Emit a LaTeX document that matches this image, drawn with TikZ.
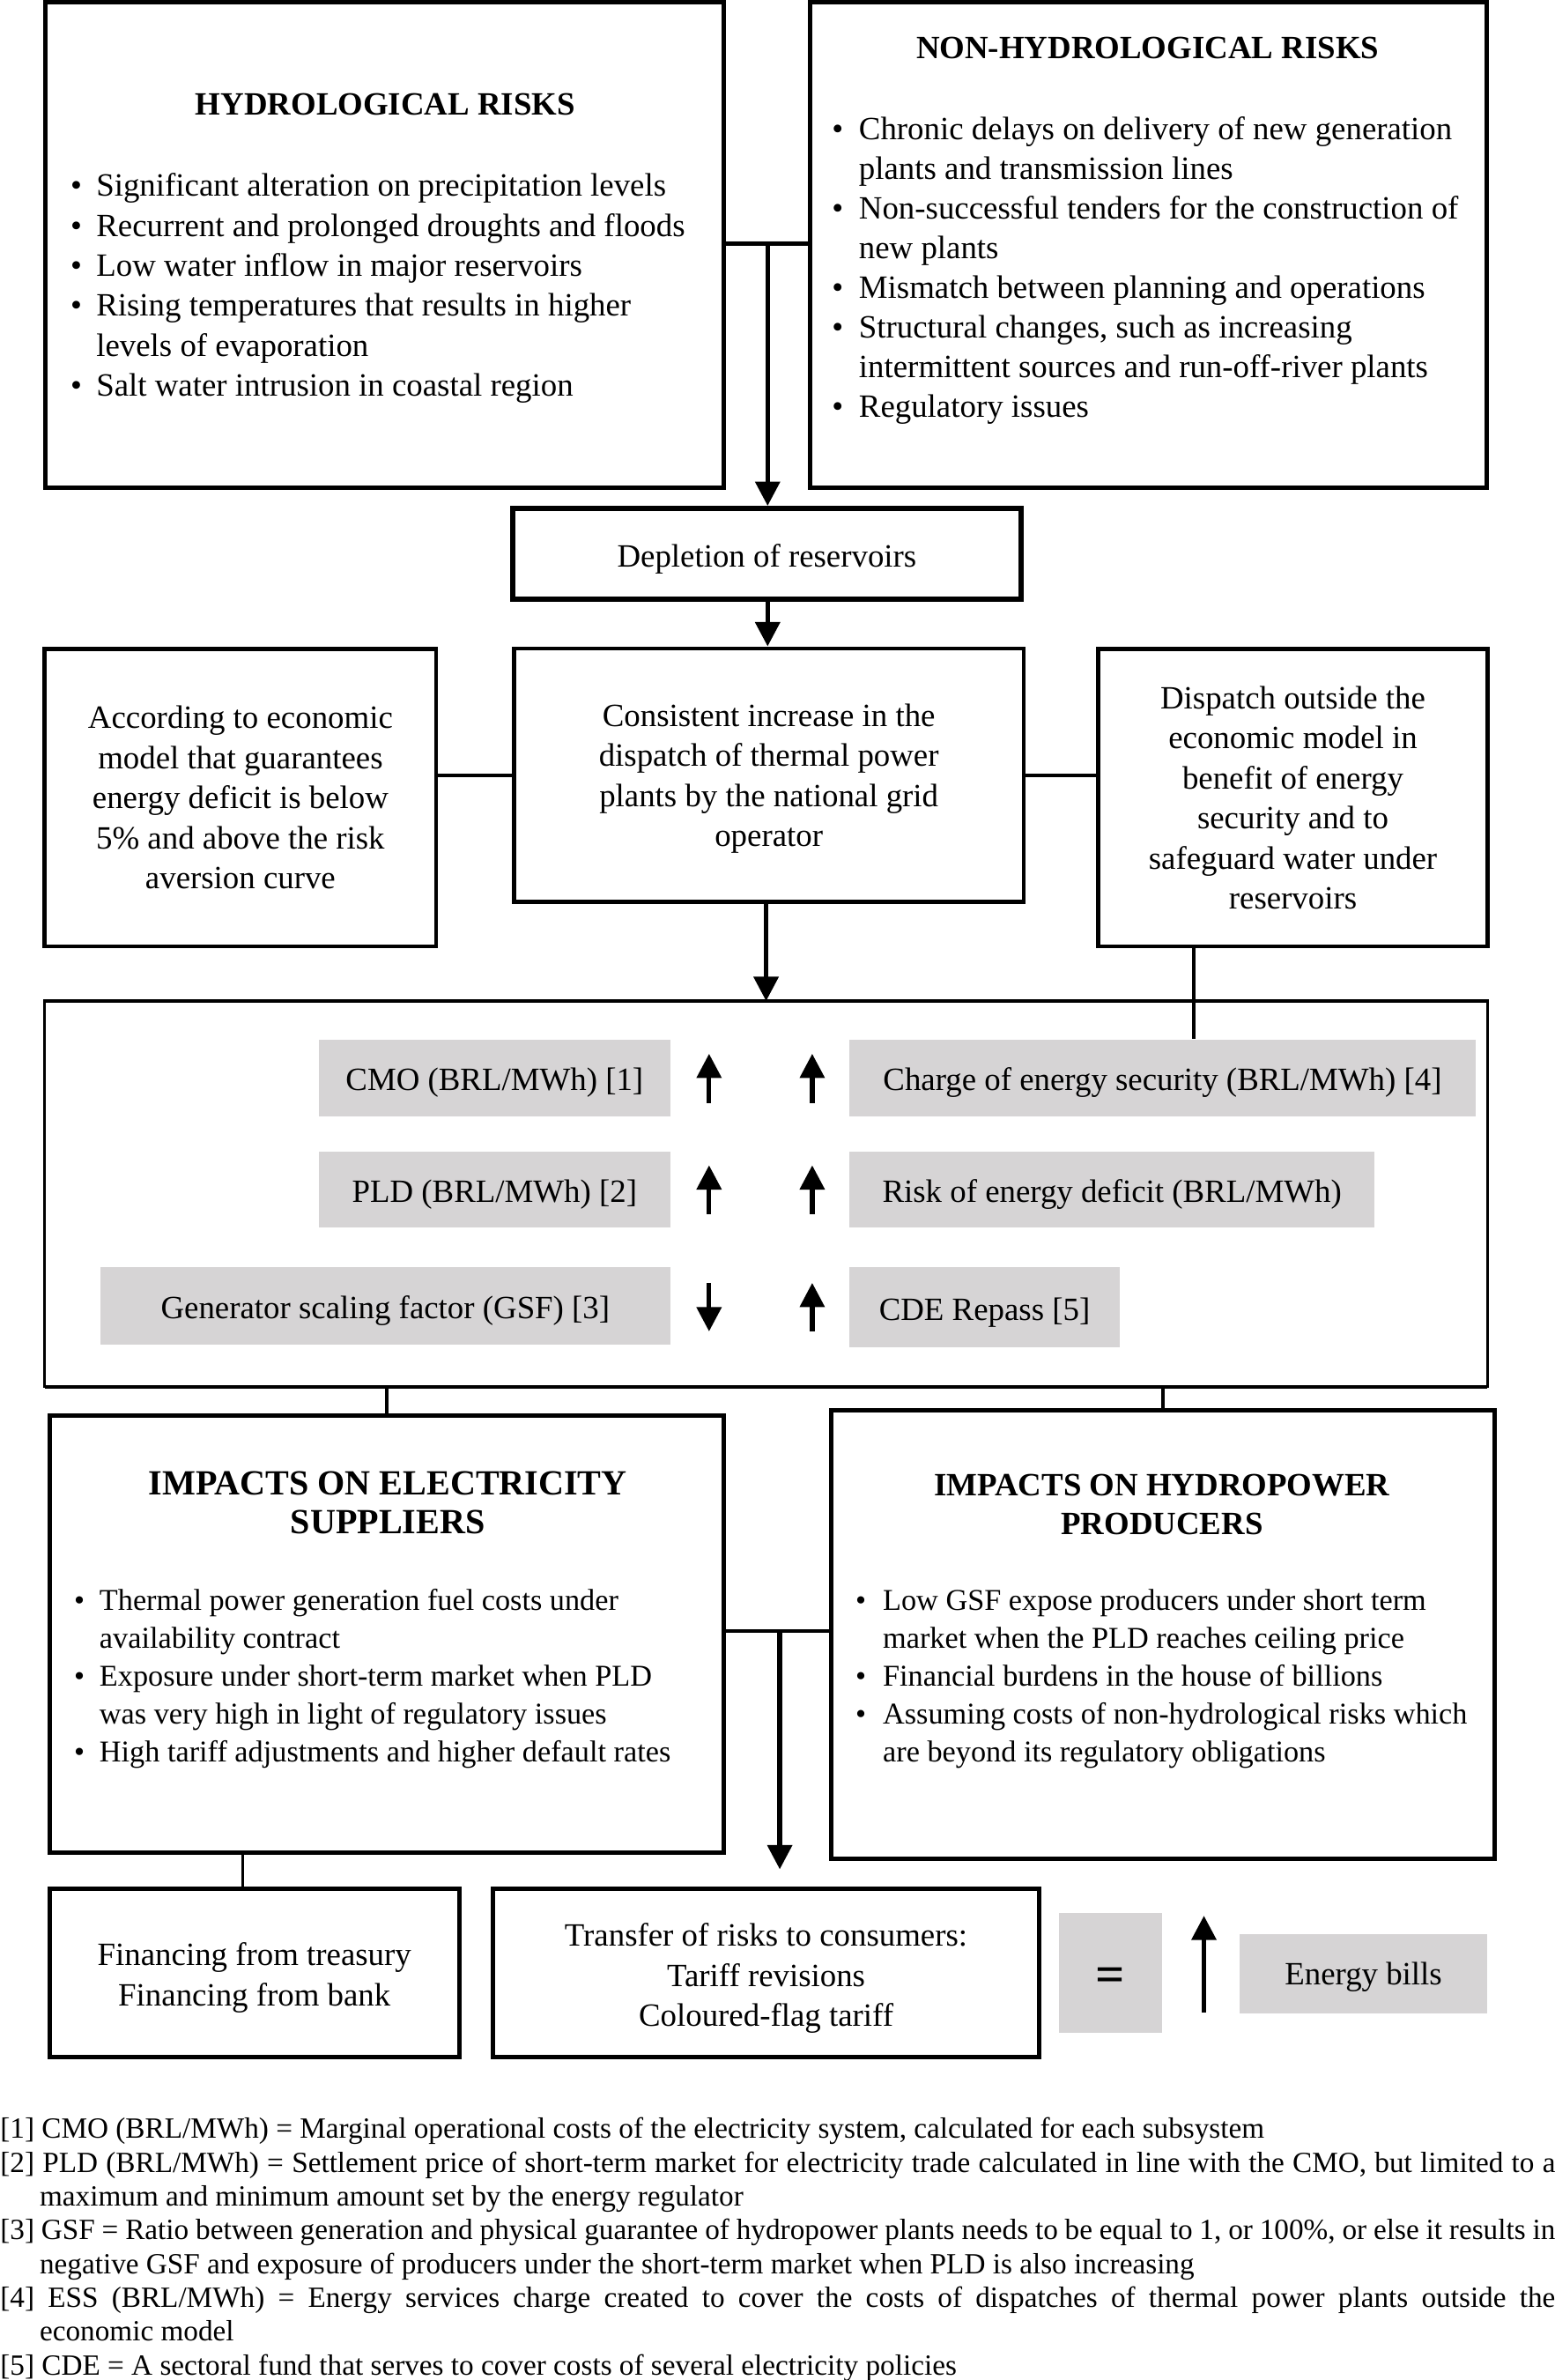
\documentclass[tikz,border=0pt]{standalone}
\usepackage{fontspec}
\setmainfont{Liberation Serif}
\usetikzlibrary{arrows.meta,calc}
\definecolor{gbox}{HTML}{D6D4D5}
\newcommand{\blist}[4][21.4]{\parbox[t]{#2}{\fontsize{#1}{#3}\selectfont\raggedright\setlength{\parindent}{0pt}#4}}
\newcommand{\bitem}[2][17pt]{\hangindent=#1\hangafter=1\noindent\makebox[#1][l]{\textbullet}#2\par}
\newcommand{\fnitem}[1]{\hangindent=26pt\hangafter=1\noindent #1\par}
\newcommand{\dropbox}[2]{\raisebox{-#1}[\height][\depth]{#2}}
\tikzset{
  box/.style={draw, line width=2.8pt, inner sep=0pt, align=center, font=\fontsize{21.4}{26.4}\selectfont},
  gnode/.style={fill=gbox, draw=none, inner sep=0pt, align=center, text height=17pt, text depth=0pt, font=\fontsize{21.4}{26.4}\selectfont},
  ttl/.style={inner sep=0pt, align=center, font=\fontsize{21.4}{25.4}\selectfont\bfseries},
  conn/.style={line width=2.6pt},
  thinconn/.style={line width=2.2pt},
  arr/.style={line width=3pt, -{Triangle[length=16pt,width=16pt]}}
}
\begin{document}
\begin{tikzpicture}[x=1pt,y=-1pt]
\useasboundingbox (0,0) rectangle (1025,1568.6);
\fill[white] (0,0) rectangle (1025,1568.6);

% top boxes
\node[box, minimum width=447pt, minimum height=320pt] (hyd) at (253.5,161.5) {};
\node[ttl] (hydt) at (254,69) {HYDROLOGICAL RISKS};
\node[anchor=base west, inner sep=0pt] (hydl) at (46.3,129.5) {\blist{450pt}{26.3pt}{%
\bitem{Significant alteration on precipitation levels}
\bitem{Recurrent and prolonged droughts and floods}
\bitem{Low water inflow in major reservoirs}
\bitem{Rising temperatures that results in higher\newline levels of evaporation}
\bitem{Salt water intrusion in coastal region}}};

\node[box, minimum width=446pt, minimum height=320pt] (non) at (757,161.5) {};
\node[ttl] (nont) at (756.5,31.5) {NON-HYDROLOGICAL RISKS};
\node[anchor=base west, inner sep=0pt] (nonl) at (548.3,92) {\blist{450pt}{26.1pt}{%
\bitem[17.7pt]{Chronic delays on delivery of new generation\newline plants and transmission lines}
\bitem[17.7pt]{Non-successful tenders for the construction of\newline new plants}
\bitem[17.7pt]{Mismatch between planning and operations}
\bitem[17.7pt]{Structural changes, such as increasing\newline intermittent sources and run-off-river plants}
\bitem[17.7pt]{Regulatory issues}}};

\coordinate (j1) at (506,160.7);
\draw[conn] (hyd.east |- j1) -- (non.west |- j1);

% depletion
\node[box, line width=3.2pt, text height=17pt, text depth=0pt, minimum width=335pt, minimum height=60pt] (dep) at (505.5,365) {Depletion of reservoirs};
\draw[arr] (j1) -- (j1 |- dep.north);

% middle row
\node[box, minimum width=258pt, minimum height=196pt] (lft) at (158.5,525.7)
  {According to economic\\model that guarantees\\energy deficit is below\\5\% and above the risk\\aversion curve};
\node[box, minimum width=336pt, minimum height=167pt] (cen) at (506.8,510.9)
  {\dropbox{2pt}{\begin{tabular}{@{}c@{}}Consistent increase in the\\dispatch of thermal power\\plants by the national grid\\operator\end{tabular}}};
\node[box, minimum width=256.5pt, minimum height=196pt] (rgt) at (852.25,525.7)
  {Dispatch outside the\\economic model in\\benefit of energy\\security and to\\safeguard water under\\reservoirs};
\draw[arr] (j1 |- dep.south) -- (j1 |- cen.north);
\draw[conn] (cen.west -| lft.east) -- (cen.west);
\draw[conn] (cen.east) -- (cen.east -| rgt.west);

% big box
\node[draw, line width=1.8pt, outer sep=0pt, inner sep=0pt, minimum width=951pt, minimum height=254.3pt] (big) at (505,786.9) {};
\draw[line width=2.8pt] (big.north west) -- (big.north east);
\draw[line width=2.8pt] (big.south west) -- (big.south east);
\coordinate (c2) at (505,0);
\draw[arr] (c2 |- cen.south) -- (c2 |- big.north);

\node[gnode, minimum width=232pt, minimum height=50.6pt] (cmo) at (326,710.3) {CMO (BRL/MWh) [1]};
\node[gnode, minimum width=412.6pt, minimum height=50.6pt] (chg) at (766.3,710.3) {Charge of energy security (BRL/MWh) [4]};
\node[gnode, minimum width=232pt, minimum height=50.2pt] (pld) at (326,783.9) {PLD (BRL/MWh) [2]};
\node[gnode, minimum width=346pt, minimum height=50.2pt] (rsk) at (733,783.9) {Risk of energy deficit (BRL/MWh)};
\node[gnode, minimum width=376pt, minimum height=51pt] (gsf) at (254,860.5) {Generator scaling factor (GSF) [3]};
\node[gnode, minimum width=178pt, minimum height=53pt] (cde) at (649,861.5) {CDE Repass [5]};

\coordinate (rl) at (787,0);
\draw[thinconn] (rl |- rgt.south) -- (rl |- chg.north);

\coordinate (a1b) at (467.4,727);   \coordinate (a1t) at (467.4,694.5);
\coordinate (a2b) at (535.4,727);   \coordinate (a2t) at (535.4,694.5);
\coordinate (a3b) at (467.4,800);   \coordinate (a3t) at (467.4,768);
\coordinate (a4b) at (535.4,800);   \coordinate (a4t) at (535.4,768);
\coordinate (a5t) at (467.4,845.5); \coordinate (a5b) at (467.4,877.5);
\coordinate (a6b) at (535.4,877.5); \coordinate (a6t) at (535.4,845.5);
\draw[arr] (a1b) -- (a1t);
\draw[arr] (a2b) -- (a2t);
\draw[arr] (a3b) -- (a3t);
\draw[arr] (a4b) -- (a4t);
\draw[arr] (a5t) -- (a5b);
\draw[arr] (a6b) -- (a6t);

% impacts
\node[box, minimum width=444.3pt, minimum height=288pt] (limp) at (254.85,1077) {};
\node[ttl, font=\fontsize{23.3}{25.2}\selectfont\bfseries] (limpt) at (255.6,990.4) {IMPACTS ON ELECTRICITY\\SUPPLIERS};
\node[anchor=base west, inner sep=0pt] (limpl) at (48.6,1061.5) {\blist[19.9]{450pt}{24.9pt}{%
\bitem[16.8pt]{Thermal power generation fuel costs under\newline availability contract}
\bitem[16.8pt]{Exposure under short-term market when PLD\newline was very high in light of regulatory issues}
\bitem[16.8pt]{High tariff adjustments and higher default rates}}};

\node[box, minimum width=437.3pt, minimum height=295.6pt] (rimp) at (766.35,1077.2) {};
\node[ttl] (rimpt) at (766,991.7) {IMPACTS ON HYDROPOWER\\PRODUCERS};
\node[anchor=base west, inner sep=0pt] (rimpl) at (563.7,1061.5) {\blist[19.9]{450pt}{24.9pt}{%
\bitem[18.1pt]{Low GSF expose producers under short term\newline market when the PLD reaches ceiling price}
\bitem[18.1pt]{Financial burdens in the house of billions}
\bitem[18.1pt]{Assuming costs of non-hydrological risks which\newline are beyond its regulatory obligations}}};

\draw[thinconn] (limp.north |- big.south) -- (limp.north);
\draw[thinconn] (rimp.north |- big.south) -- (rimp.north);

\coordinate (j2) at (514,1075);
\coordinate (j3) at (514,1232);
\draw[conn] (limp.east |- j2) -- (rimp.west |- j2);
\draw[arr] (j2) -- (j3);

% bottom row
\node[box, minimum width=270pt, minimum height=110.6pt] (fin) at (167.7,1300.3)
  {\dropbox{3pt}{\begin{tabular}{@{}c@{}}Financing from treasury\\Financing from bank\end{tabular}}};
\node[box, minimum width=360pt, minimum height=110.6pt] (trf) at (505,1300.3)
  {\dropbox{3.5pt}{\begin{tabular}{@{}c@{}}Transfer of risks to consumers:\\Tariff revisions\\Coloured-flag tariff\end{tabular}}};
\coordinate (f1) at (160,0);
\draw[thinconn] (f1 |- limp.south) -- (f1 |- fin.north);

\node[gnode, text height=24pt, minimum width=68pt, minimum height=79pt, font=\fontsize{34}{34}\selectfont\bfseries] (eq) at (732,1300.5) {=};
\coordinate (eb) at (793.6,1326.5);
\coordinate (et) at (793.6,1262.6);
\draw[arr] (eb) -- (et);
\node[gnode, text height=15pt, minimum width=163.5pt, minimum height=52.3pt] (bills) at (898.75,1300.9) {Energy bills};

% footnotes
\node[anchor=base west, inner sep=0pt] (notes) at (0,1409.3) {\parbox[t]{1025pt}{\fontsize{19.3}{22.26}\selectfont\setlength{\parindent}{0pt}%
\fnitem{[1] CMO (BRL/MWh) = Marginal operational costs of the electricity system, calculated for each subsystem}
\fnitem{[2] PLD (BRL/MWh) = Settlement price of short-term market for electricity trade calculated in line with the CMO, but limited to a\linebreak maximum and minimum amount set by the energy regulator}
\fnitem{[3] GSF = Ratio between generation and physical guarantee of hydropower plants needs to be equal to 1, or 100\%, or else it results in\linebreak negative GSF and exposure of producers under the short-term market when PLD is also increasing}
\fnitem{[4] ESS (BRL/MWh) = Energy services charge created to cover the costs of dispatches of thermal power plants outside the\linebreak economic model}
\fnitem{[5] CDE = A sectoral fund that serves to cover costs of several electricity policies}}};
\end{tikzpicture}
\end{document}
